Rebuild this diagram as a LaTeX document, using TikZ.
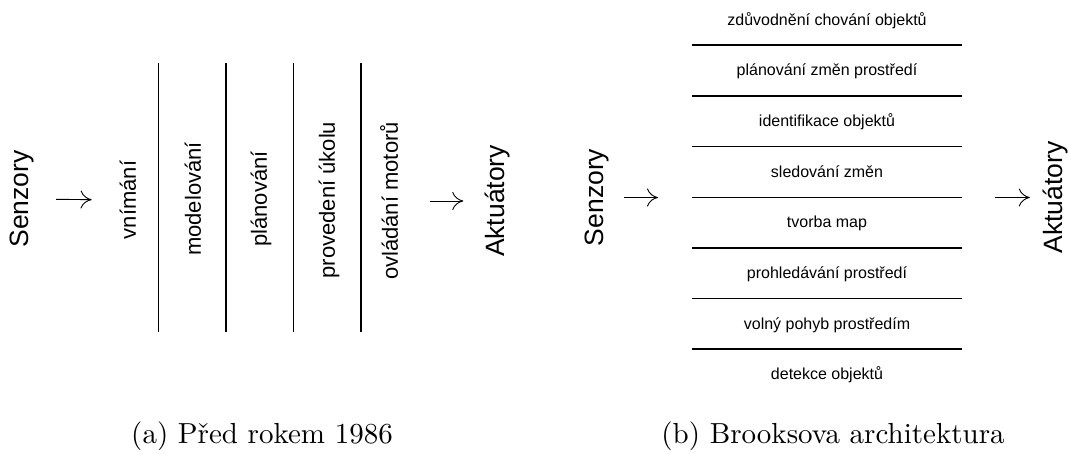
\documentclass[tikz,border=0pt]{standalone}
\usepackage{fontspec}
\newfontfamily\diagfont{Liberation Sans}
\usetikzlibrary{arrows.meta}

\begin{document}
\begin{tikzpicture}[x=1pt, y=-1pt, node distance=50.67pt,
		hlavni/.style = {rotate=90, inner sep=0pt, font=\diagfont\fontsize{26.5}{30}\selectfont},
		vrstva/.style = {rotate=90, inner sep=0pt, font=\diagfont\fontsize{22}{26}\selectfont},
		radek/.style = {inner sep=0pt, text height=0.75em, text depth=0.25em, font=\diagfont\fontsize{16}{19}\selectfont},
		sipka/.style = {-{To[length=11pt,width=18pt]}, line width=0.9pt},
		cara/.style = {line width=1.2pt},
		popisek/.style = {anchor=base, scale=2.9, transform shape, font=\fontsize{10}{12}\selectfont}]
		\useasboundingbox (0,0) rectangle (1068,453);
		% (a) pred rokem 1986
		\node[hlavni] (senzA) at (22,199) {Senzory};
		\node[vrstva] (vnimani) at (128,200) {vnímání};
		\node[vrstva] (modelovani) at (193,199) {modelování};
		\node[vrstva] (planovani) at (261,199) {plánování};
		\node[vrstva] (provedeni) at (329,200) {provedení úkolu};
		\node[vrstva] (ovladani) at (389,201) {ovládání motorů};
		\node[hlavni] (aktA) at (497,201) {Aktuátory};
		\draw[cara] (158.5,63) -- (158.5,332);
		\draw[cara] (226,63) -- (226,332);
		\draw[cara] (293.5,63) -- (293.5,332);
		\draw[cara] (361,63) -- (361,332);
		\draw[sipka, shorten <=22pt, shorten >=28pt] (senzA) -- (vnimani);
		\draw[sipka, shorten <=32pt, shorten >=21pt] (ovladani) -- (aktA);
		% (b) Brooksova architektura
		\node[hlavni] (senzB) at (597,197.5) {Senzory};
		\node[hlavni] (aktB) at (1055.5,197.5) {Aktuátory};
		\coordinate (vstup) at (692,197.5);
		\coordinate (vystup) at (962,197.5);
		\node[radek] (zduvodneni) at (827,22.5) {zdůvodnění chování objektů};
		\node[radek] (planZmen) [below of=zduvodneni] {plánování změn prostředí};
		\node[radek] (identifikace) [below of=planZmen] {identifikace objektů};
		\node[radek] (sledovani) [below of=identifikace] {sledování změn};
		\node[radek] (tvorbaMap) [below of=sledovani] {tvorba map};
		\node[radek] (prohledavani) [below of=tvorbaMap] {prohledávání prostředí};
		\node[radek] (volnyPohyb) [below of=prohledavani] {volný pohyb prostředím};
		\node[radek] (detekce) [below of=volnyPohyb] {detekce objektů};
		\draw[cara] (692,45) -- (962,45);
		\draw[cara] (692,96) -- (962,96);
		\draw[cara] (692,146.5) -- (962,146.5);
		\draw[cara] (692,197.5) -- (962,197.5);
		\draw[cara] (692,248) -- (962,248);
		\draw[cara] (692,298.5) -- (962,298.5);
		\draw[cara] (692,349) -- (962,349);
		\draw[sipka, shorten <=14.5pt, shorten >=34pt] (senzB) -- (vstup);
		\draw[sipka, shorten <=33pt, shorten >=13pt] (vystup) -- (aktB);
		% popisky
		\node[popisek] (capA) at (262,443) {(a) Před rokem 1986};
		\node[popisek] (capB) at (833,443) {(b) Brooksova architektura};
	\end{tikzpicture}
\end{document}
